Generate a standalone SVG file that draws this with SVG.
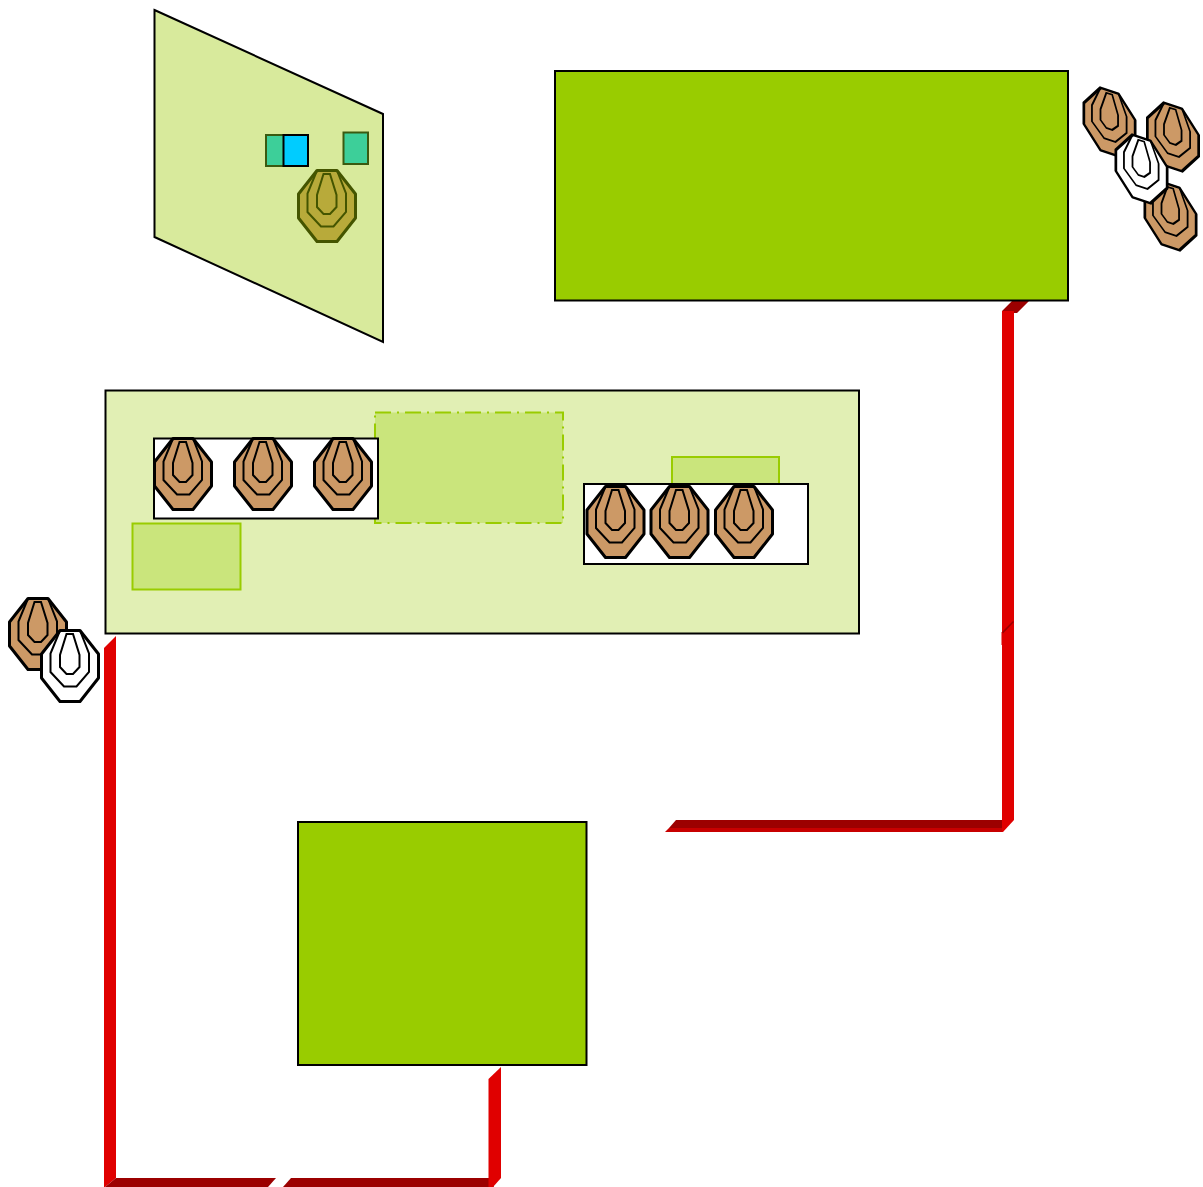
<svg xmlns="http://www.w3.org/2000/svg" xmlns:xlink="http://www.w3.org/1999/xlink" width="1203" height="1187" viewBox="0 0 1203 1187">
<style>
.box{stroke:#000;stroke-width:2}
.big{fill:#9c0}
.zone{fill:#cae57c;stroke:#9c0;stroke-width:2}
.tray{fill:#fff;stroke:#000;stroke-width:2}
.teal{fill:#3dcf99;stroke:#3a5a10;stroke-width:2}
.pipe{fill:#e00000}
.shade{fill:#9c0000}
.edge{fill:#c80000}
</style>
<defs>
<g id="target">
<polygon points="-10,-35.500 10,-35.500 28.500,-12 28.500,12 10,35.500 -10,35.500 -28.500,12 -28.500,-12" stroke-width="3" stroke-linejoin="round"/>
<polyline points="-10,-35.500 -19.500,-12.500 -19.500,6 -6,20.500 6.500,20.500 19,6 19,-12.500 10,-35.500" fill="none" stroke-width="2"/>
<polygon points="-3.500,-32 3,-32 9.500,-11 9.500,1 3,8 -3.500,8 -10,1 -10,-11" fill="none" stroke-width="2"/>
</g>
</defs>
<g id="connectors">
<polygon class="pipe" points="1002,311 1014,311 1014,820 1003,832 1002,832"/>
<polygon class="shade" points="1002,311 1012,301 1029,301 1017,313 1014,313 1014,311 1002,311"/>
<polygon class="pipe" points="1001.500,632 1002,632 1002,645 1001.500,645"/>
<polygon class="shade" points="1002,632 1013,621 1014,622 1003,633.500"/>
<polygon class="shade" points="676,820 1002,820 1002,828 669,828"/>
<polygon class="edge" points="669,828 1002,828 1002,832 665,832"/>
<polygon class="pipe" points="104,648 116,636 116,1178 105,1187 104,1187"/>
<polygon class="shade" points="116,1178 276,1178 268,1187 105,1187"/>
<polygon class="shade" points="291,1178 489,1178 494,1187 283,1187"/>
<polygon class="pipe" points="488.500,1079 501,1067 501,1178 493,1187 488.500,1187"/>
</g>
<g id="plane">
<polygon points="154.500,10 383,114 383,342 154.500,237" fill="#d8ea9c" class="box"/>
<rect class="teal" x="266" y="135" width="28" height="31"/>
<rect id="cyan-box" x="283.500" y="135" width="24.500" height="31" fill="#00ccff" stroke="#000" stroke-width="2"/>
<rect class="teal" x="343.500" y="132.500" width="24.500" height="31.500"/>
<use xlink:href="#target" href="#target" transform="translate(327,206)" fill="#b8aa3a" stroke="#445500"/>
</g>
<g id="server-top"><rect class="box big" x="555" y="71" width="513" height="229.500"/></g>
<g id="server-bottom"><rect class="box big" x="298" y="822" width="288.500" height="243"/></g>
<g id="panel">
<rect class="box" x="105.500" y="390.500" width="753.500" height="243" fill="#e1efb4"/>
<rect class="zone" x="375" y="412.500" width="188" height="110.500" stroke-dasharray="16 6 2 6"/>
<rect class="zone" x="132.500" y="523.500" width="108" height="66"/>
<rect class="zone" x="672" y="457" width="107" height="30"/>
</g>
<g id="tray-left">
<rect class="tray" x="154" y="438.500" width="224" height="80"/>
<use xlink:href="#target" href="#target" transform="translate(183,474)" fill="#cc9966" stroke="#000"/>
<use xlink:href="#target" href="#target" transform="translate(263,474)" fill="#cc9966" stroke="#000"/>
<use xlink:href="#target" href="#target" transform="translate(343,474)" fill="#cc9966" stroke="#000"/>
</g>
<g id="tray-right">
<rect class="tray" x="584" y="484" width="224" height="80"/>
<use xlink:href="#target" href="#target" transform="translate(615.500,522)" fill="#cc9966" stroke="#000"/>
<use xlink:href="#target" href="#target" transform="translate(679.500,522)" fill="#cc9966" stroke="#000"/>
<use xlink:href="#target" href="#target" transform="translate(744,522)" fill="#cc9966" stroke="#000"/>
</g>
<g id="cluster-left">
<use xlink:href="#target" href="#target" transform="translate(38,634)" fill="#cc9966" stroke="#000"/>
<use xlink:href="#target" href="#target" transform="translate(70,666)" fill="#fff" stroke="#000"/>
</g>
<g id="cluster-right">
<use xlink:href="#target" href="#target" transform="matrix(.9 .3 0 .88 1109.500 122)" fill="#cc9966" stroke="#000"/>
<use xlink:href="#target" href="#target" transform="matrix(.9 .3 0 .88 1173 137)" fill="#cc9966" stroke="#000"/>
<use xlink:href="#target" href="#target" transform="matrix(.9 .3 0 .88 1170.500 216)" fill="#cc9966" stroke="#000"/>
<use xlink:href="#target" href="#target" transform="matrix(.9 .3 0 .88 1141.500 169)" fill="#fff" stroke="#000"/>
</g>
</svg>
